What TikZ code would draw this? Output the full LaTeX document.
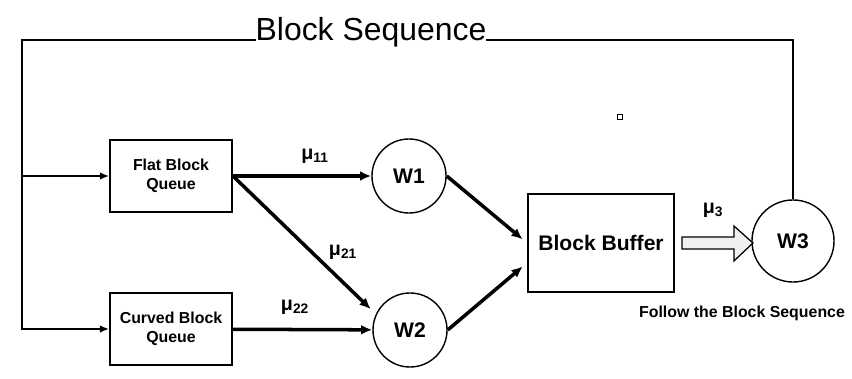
\documentclass[tikz,border=0pt]{standalone}
\usepackage{fontspec}
\setmainfont{Liberation Sans}
\usetikzlibrary{arrows.meta}

\begin{document}
\begin{tikzpicture}[
  x=0.025cm, y=-0.025cm,
  queuebox/.style={draw, line width=1.3pt, align=center,
    minimum width=3.05cm, minimum height=1.8cm,
    font=\fontsize{11.3}{13.5}\selectfont\bfseries},
  bufferbox/.style={draw, line width=1.3pt,
    minimum width=3.65cm, minimum height=2.45cm,
    font=\fontsize{15}{18}\selectfont\bfseries},
  server/.style={draw, circle, line width=1pt, minimum size=1.85cm,
    font=\fontsize{15}{18}\selectfont\bfseries},
  rate/.style={font=\fontsize{14}{16}\selectfont\bfseries},
  flow/.style={line width=2.5pt,-{Latex[length=8pt,width=7pt]}},
  feedflow/.style={line width=1.3pt,-{Latex[length=6.5pt,width=5.5pt]}},
  hollow/.style={draw, line width=0.9pt, fill=gray!12, line join=miter}
]
\useasboundingbox (0,0) rectangle (852,379);
\node[queuebox] (flat) at (171,176) {Flat Block\\Queue};
\node[queuebox] (curved) at (171,329) {Curved Block\\Queue};
\node[server] (w1) at (409,176) {W1};
\node[server] (w2) at (410,330) {W2};
\node[bufferbox] (buffer) at (601,243) {Block Buffer};
\node[server, minimum size=2.05cm] (w3) at (793,241) {W3};
\node[draw, line width=0.6pt, minimum size=3.5pt, inner sep=0pt] (dot) at (620,117) {};
% feedback loop from W3 back to both queues
\coordinate (topL) at (22,40);
\draw[feedflow] (w3.north) |- (topL) |- (curved.west);
\draw[feedflow] (topL |- flat.west) -- (flat.west);
\node[fill=white, inner sep=0pt, anchor=base,
  font=\fontsize{22.7}{26}\selectfont] (title) at (371,41) {Block Sequence};
% service rates
\draw[flow] (flat) -- (w1);
\draw[flow, shorten >=5pt] (flat.east) -- (w2.155);
\draw[flow] (curved) -- (w2);
\draw[flow, shorten >=4pt] (w1.east) -- (buffer.west);
\draw[flow, shorten >=4pt] (w2.east) -- (buffer.195);
\node[rate] (mu11) at (315,156) {μ\textsubscript{11}};
\node[rate] (mu21) at (343,252) {μ\textsubscript{21}};
\node[rate] (mu22) at (295,307) {μ\textsubscript{22}};
\draw[hollow, shift={(buffer.east)}] (7,-6) -- (59,-6) -- (59,-17) -- (78,0)
  -- (59,18) -- (59,6) -- (7,6) -- cycle;
\node[rate] (mu3) at (713,210) {μ\textsubscript{3}};
\node[font=\fontsize{11.3}{13.5}\selectfont\bfseries] (follow) at (742,313)
  {Follow the Block Sequence};
\end{tikzpicture}
\end{document}
